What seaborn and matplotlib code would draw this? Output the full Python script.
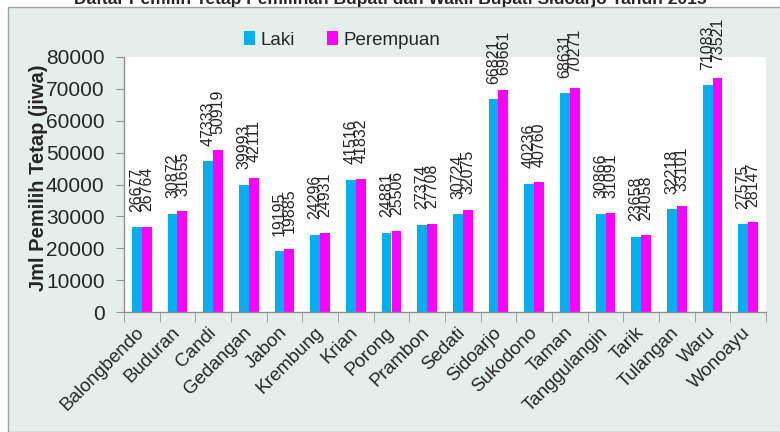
import pandas as pd
import matplotlib.pyplot as plt
import matplotlib.transforms as mtrans
import seaborn as sns
from matplotlib.patches import Rectangle

kecamatan = ['Balongbendo', 'Buduran', 'Candi', 'Gedangan', 'Jabon', 'Krembung',
             'Krian', 'Porong', 'Prambon', 'Sedati', 'Sidoarjo', 'Sukodono',
             'Taman', 'Tanggulangin', 'Tarik', 'Tulangan', 'Waru', 'Wonoayu']
laki = [26677, 30872, 47333, 39993, 19195, 24296, 41516, 24881, 27374,
        30724, 66821, 40236, 68631, 30866, 23658, 32218, 71083, 27575]
perempuan = [26764, 31655, 50919, 42111, 19885, 24931, 41832, 25506, 27708,
             32075, 69661, 40760, 70271, 31091, 24058, 33101, 73521, 28147]
yticks = [0, 10000, 20000, 30000, 40000, 50000, 60000, 70000, 80000]

df = pd.DataFrame({'Kecamatan': kecamatan * 2,
                   'Jenis': ['Laki'] * len(laki) + ['Perempuan'] * len(perempuan),
                   'Jumlah': laki + perempuan})

sns.set_style('white')
plt.rcParams['font.family'] = ['Liberation Sans Narrow', 'Liberation Sans', 'DejaVu Sans']

fig = plt.figure(figsize=(7.8, 4.32), dpi=100, facecolor='white')
fig.patches.append(Rectangle((8 / 780, 0), 1, 1 - 7 / 432, transform=fig.transFigure,
                             facecolor='#E6EEEC', edgecolor='#A0A0A0', linewidth=1, zorder=-10))
ax = fig.add_axes([124 / 780, 1 - 312 / 432, (766 - 124) / 780, (312 - 57) / 432])
ax.set_zorder(5)
ax.set_facecolor('white')

warna = {'Laki': '#00B0F0', 'Perempuan': '#FF00FF'}
sns.barplot(data=df, x='Kecamatan', y='Jumlah', hue='Jenis', palette=warna,
            width=0.56, linewidth=0, saturation=1, ax=ax)

for cont in ax.containers:
    for bar in cont:
        h = bar.get_height()
        ax.annotate(f'{int(h)}', (bar.get_x() + bar.get_width() / 2, h),
                    xytext=(0, 11), textcoords='offset points', rotation=90,
                    ha='center', va='bottom', fontsize=11.5)

ax.set_ylim(0, 80000)
ax.set_xlim(-0.5, len(kecamatan) - 0.5)
ax.set_yticks(yticks)
ax.set_yticklabels([str(v) for v in yticks], fontsize=15)
ax.set_xticks(range(len(kecamatan)))
ax.set_xticklabels(kecamatan, rotation=45, ha='right', va='center',
                   rotation_mode='anchor', fontsize=13.5)
geser = mtrans.ScaledTranslation(10 / 100, 0, fig.dpi_scale_trans)
for lbl in ax.get_xticklabels():
    lbl.set_transform(lbl.get_transform() + geser)
ax.set_xticks([i - 0.5 for i in range(len(kecamatan) + 1)], minor=True)
ax.tick_params(axis='x', which='major', length=0, pad=13)
ax.tick_params(axis='x', which='minor', length=7, color='#909090', direction='out', bottom=True)
ax.tick_params(axis='y', length=6, color='#909090', direction='out', left=True, pad=8)
ax.set_xlabel('')
ax.set_ylabel('Jml Pemilih Tetap (jiwa)', fontsize=14.5, fontweight='bold', labelpad=0)
ax.yaxis.set_label_coords(-0.118, 0.525)

for s in ['top', 'right']:
    ax.spines[s].set_visible(False)
for s in ['left', 'bottom']:
    ax.spines[s].set_color('#909090')
    ax.spines[s].set_linewidth(1)

ax.legend(loc='center', bbox_to_anchor=(342 / 780, 1 - 40 / 432), bbox_transform=fig.transFigure,
          ncol=2, frameon=False, fontsize=13.5, handlelength=0.6, handleheight=0.7,
          handletextpad=0.3, columnspacing=1.7)

fig.text(0.5, 1 - 4 / 432, 'Daftar Pemilih Tetap Pemilihan Bupati dan Wakil Bupati Sidoarjo Tahun 2015',
         ha='center', va='baseline', fontsize=12.5, fontweight='bold')

fig.savefig('out.png', dpi=100, facecolor='white')
